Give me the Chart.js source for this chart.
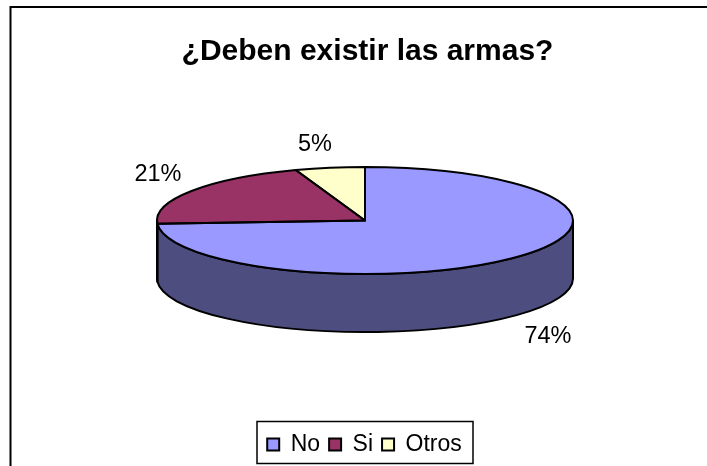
<!DOCTYPE html>
<html><head><meta charset="utf-8">
<style>html,body{margin:0;padding:0;background:#fff}canvas{display:block}</style>
<script src="https://cdn.jsdelivr.net/npm/chart.js@4"></script>
</head><body><canvas id="c" width="707" height="466"></canvas>
<script>
const chartTitle = "¿Deben existir las armas?";
const categories = ["No", "Si", "Otros"];
const values = [74, 20.6, 5.4];
const topColors = ["#9999FF", "#993366", "#FFFFCC"];
const wallColors = ["#4D4D80", "#4D1A33", "#808066"];
const labelSpots = [[548, 337], [158, 175], [315, 145]];
const FONT = '"Liberation Sans", Arial, sans-serif';
const PIE = {x: 365, y: 220.5, rx: 208, ry: 53.5, depth: 58};

function wallRanges(s, e) {
  const out = [];
  for (const k of [-2, 0, 2]) {
    const a = Math.max(s + k * Math.PI, 0), b = Math.min(e + k * Math.PI, Math.PI);
    if (b > a) out.push([a, b]);
  }
  return out;
}
const pie3d = {
  id: "pie3d",
  afterLayout(chart) {
    chart.legend.left -= 3;
    chart.legend.right -= 3;
  },
  beforeDatasetsDraw(chart) {
    const ctx = chart.ctx, arcs = chart.getDatasetMeta(0).data;
    ctx.save();
    ctx.strokeStyle = "#000"; ctx.lineWidth = 2; ctx.lineJoin = "round";
    arcs.forEach((arc, i) => {
      for (const [a, b] of wallRanges(arc.startAngle, arc.endAngle)) {
        ctx.beginPath();
        ctx.ellipse(PIE.x, PIE.y, PIE.rx, PIE.ry, 0, a, b);
        ctx.ellipse(PIE.x, PIE.y + PIE.depth, PIE.rx, PIE.ry, 0, b, a, true);
        ctx.closePath();
        ctx.fillStyle = wallColors[i];
        ctx.fill();
        ctx.stroke();
      }
    });
    ctx.restore();
    const r = arcs[0].outerRadius, cx = arcs[0].x, cy = arcs[0].y;
    ctx.save();
    ctx.translate(PIE.x, PIE.y);
    ctx.scale(PIE.rx / r, PIE.ry / r);
    ctx.translate(-cx, -cy);
  },
  afterDatasetsDraw(chart) {
    const ctx = chart.ctx, arcs = chart.getDatasetMeta(0).data;
    ctx.restore();
    ctx.save();
    ctx.strokeStyle = "#000"; ctx.lineWidth = 2; ctx.lineJoin = "round";
    arcs.forEach(arc => {
      ctx.beginPath();
      ctx.moveTo(PIE.x, PIE.y);
      ctx.ellipse(PIE.x, PIE.y, PIE.rx, PIE.ry, 0, arc.startAngle, arc.endAngle);
      ctx.closePath();
      ctx.stroke();
    });
    ctx.fillStyle = "#000";
    ctx.font = "23.5px " + FONT;
    ctx.textAlign = "center"; ctx.textBaseline = "middle";
    values.forEach((v, i) => ctx.fillText(Math.round(v) + "%", labelSpots[i][0], labelSpots[i][1]));
    ctx.restore();
  },
  afterDraw(chart) {
    const ctx = chart.ctx;
    ctx.save();
    ctx.strokeStyle = "#000"; ctx.lineWidth = 2;
    ctx.beginPath();
    ctx.moveTo(10.5, 466); ctx.lineTo(10.5, 7); ctx.lineTo(707, 7);
    ctx.stroke();
    ctx.lineWidth = 1.5;
    ctx.strokeRect(257, 421.5, 216, 42);
    ctx.restore();
  }
};

new Chart(document.getElementById("c"), {
  type: "pie",
  data: {
    labels: categories,
    datasets: [{ data: values, backgroundColor: topColors, borderWidth: 0 }]
  },
  options: {
    responsive: false,
    animation: false,
    layout: { padding: { left: 28, right: 0, top: 0, bottom: 0 } },
    plugins: {
      tooltip: { enabled: false },
      title: { display: true, text: chartTitle, color: "#000",
        font: { family: FONT, size: 30, weight: "bold" }, padding: { top: 34, bottom: 10 } },
      legend: { position: "bottom",
        labels: { color: "#000", font: { family: FONT, size: 23 }, boxWidth: 12, boxHeight: 12, padding: 9,
          generateLabels(chart) {
            return categories.map((t, i) => ({ text: t, fillStyle: topColors[i], strokeStyle: "#000",
              lineWidth: 2, hidden: false, index: i, fontColor: "#000" }));
          } } }
    }
  },
  plugins: [pie3d]
});
</script></body></html>
